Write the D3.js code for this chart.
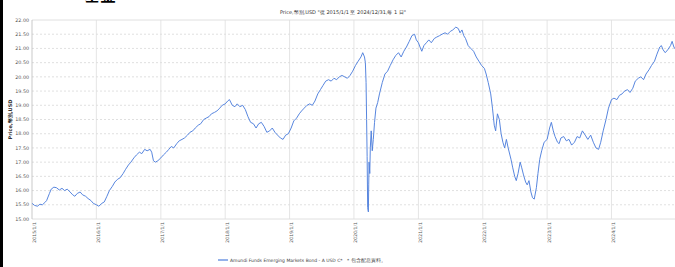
<!DOCTYPE html>
<html><head><meta charset="utf-8">
<script src="https://cdn.jsdelivr.net/npm/d3@7"></script>
<style>body{margin:0;background:#fff;overflow:hidden}svg{display:block;font-family:"DejaVu Sans",Verdana,sans-serif}</style>
</head><body>
<svg id="c" width="675" height="267"></svg>
<script>
const titleText = 'Price,幣別,USD "從 2015/1/1 至 2024/12/31,每 1 日"';
const yLabel = "Price,幣別,USD";
const seriesName = "Amundi Funds Emerging Markets Bond - A USD C*";
const noteText = "*  包含配息資料。";
const yTicks = [15,15.5,16,16.5,17,17.5,18,18.5,19,19.5,20,20.5,21,21.5,22];
const xTickYears = [2015,2016,2017,2018,2019,2020,2021,2022,2023,2024];
const dates = ["2015-01-02","2015-01-15","2015-02-01","2015-02-15","2015-03-01","2015-03-15","2015-03-25","2015-04-10","2015-04-20","2015-05-05","2015-05-20","2015-06-05","2015-06-20","2015-07-05","2015-07-20","2015-08-05","2015-08-20","2015-09-01","2015-09-15","2015-10-01","2015-10-15","2015-11-01","2015-11-15","2015-12-01","2015-12-15",
"2016-01-01","2016-01-15","2016-02-01","2016-02-15","2016-03-01","2016-03-15","2016-04-01","2016-04-15","2016-05-01","2016-05-15","2016-06-01","2016-06-15","2016-07-01","2016-07-15","2016-08-01","2016-08-15","2016-09-01","2016-09-15","2016-10-01","2016-10-15","2016-11-01","2016-11-10","2016-11-20","2016-12-01","2016-12-15",
"2017-01-01","2017-01-15","2017-02-01","2017-02-15","2017-03-01","2017-03-15","2017-04-01","2017-04-15","2017-05-01","2017-05-15","2017-06-01","2017-06-15","2017-07-01","2017-07-15","2017-08-01","2017-08-15","2017-09-01","2017-09-15","2017-10-01","2017-10-15","2017-11-01","2017-11-15","2017-12-01","2017-12-15",
"2018-01-01","2018-01-15","2018-01-25","2018-02-10","2018-02-25","2018-03-10","2018-03-25","2018-04-10","2018-04-25","2018-05-10","2018-05-25","2018-06-10","2018-06-25","2018-07-10","2018-07-25","2018-08-10","2018-08-25","2018-09-10","2018-09-25","2018-10-10","2018-10-25","2018-11-10","2018-11-25","2018-12-10","2018-12-25",
"2019-01-10","2019-01-25","2019-02-10","2019-02-25","2019-03-10","2019-03-25","2019-04-10","2019-04-25","2019-05-10","2019-05-25","2019-06-10","2019-06-25","2019-07-10","2019-07-25","2019-08-10","2019-08-25","2019-09-10","2019-09-25","2019-10-10","2019-10-25","2019-11-10","2019-11-25","2019-12-10","2019-12-25",
"2020-01-10","2020-01-25","2020-02-10","2020-02-20","2020-03-01","2020-03-06","2020-03-10","2020-03-13","2020-03-16","2020-03-19","2020-03-23","2020-03-25","2020-03-27","2020-03-31","2020-04-03","2020-04-08","2020-04-14","2020-04-20","2020-04-27","2020-05-05","2020-05-15","2020-05-25","2020-06-10","2020-06-25","2020-07-10","2020-07-25","2020-08-10","2020-08-25","2020-09-10","2020-09-25","2020-10-10","2020-10-25","2020-11-10","2020-11-25","2020-12-10","2020-12-20",
"2021-01-01","2021-01-10","2021-01-20","2021-02-01","2021-02-15","2021-03-01","2021-03-15","2021-04-01","2021-04-15","2021-05-01","2021-05-15","2021-06-01","2021-06-15","2021-07-01","2021-07-15","2021-08-01","2021-08-15","2021-08-25","2021-09-05","2021-09-15","2021-09-25","2021-10-10","2021-10-25","2021-11-10","2021-11-25","2021-12-10","2021-12-25",
"2022-01-10","2022-01-20","2022-02-01","2022-02-15","2022-02-25","2022-03-07","2022-03-15","2022-03-25","2022-04-05","2022-04-15","2022-04-25","2022-05-05","2022-05-15","2022-05-25","2022-06-10","2022-06-20","2022-07-01","2022-07-10","2022-07-20","2022-08-01","2022-08-10","2022-08-20","2022-09-01","2022-09-10","2022-09-20","2022-10-01","2022-10-10","2022-10-20","2022-11-01","2022-11-10","2022-11-20","2022-12-01","2022-12-15",
"2023-01-01","2023-01-15","2023-01-25","2023-02-05","2023-02-15","2023-03-01","2023-03-10","2023-03-20","2023-04-05","2023-04-20","2023-05-05","2023-05-20","2023-06-05","2023-06-20","2023-07-05","2023-07-20","2023-08-05","2023-08-20","2023-09-05","2023-09-20","2023-10-05","2023-10-20","2023-11-01","2023-11-15","2023-12-01","2023-12-15",
"2024-01-01","2024-01-15","2024-02-01","2024-02-15","2024-03-01","2024-03-15","2024-04-01","2024-04-15","2024-05-01","2024-05-15","2024-06-01","2024-06-15","2024-07-01","2024-07-15","2024-08-01","2024-08-15","2024-09-01","2024-09-15","2024-10-01","2024-10-10","2024-10-20","2024-11-01","2024-11-15","2024-12-01","2024-12-10","2024-12-20","2024-12-31"];
const prices = [15.55,15.48,15.45,15.52,15.50,15.58,15.65,15.90,16.05,16.12,16.10,16.02,16.08,16.00,16.05,15.95,15.85,15.80,15.90,15.95,15.85,15.80,15.72,15.65,15.55,
15.50,15.45,15.55,15.60,15.80,16.00,16.15,16.30,16.40,16.45,16.60,16.75,16.90,17.00,17.15,17.25,17.35,17.30,17.45,17.40,17.45,17.35,17.05,17.00,17.05,
17.15,17.25,17.35,17.45,17.55,17.50,17.65,17.75,17.80,17.85,17.95,18.05,18.10,18.20,18.30,18.35,18.50,18.55,18.60,18.70,18.75,18.80,18.90,19.00,
19.05,19.15,19.20,19.00,18.95,19.05,18.95,19.00,18.85,18.60,18.40,18.35,18.20,18.35,18.40,18.25,18.05,18.10,18.20,18.05,17.95,17.85,17.80,17.95,18.00,
18.20,18.45,18.55,18.70,18.80,18.90,19.00,19.05,19.00,19.15,19.40,19.55,19.70,19.85,19.90,19.85,19.95,19.90,20.00,20.05,20.00,19.95,20.05,20.20,
20.40,20.55,20.70,20.85,20.70,20.50,19.80,18.50,17.20,15.40,15.25,16.20,17.00,16.60,17.50,18.10,17.40,17.80,18.40,18.90,19.10,19.40,19.80,20.10,20.20,20.40,20.60,20.75,20.85,20.70,20.90,21.05,21.25,21.45,21.50,21.30,
21.20,21.05,20.90,21.10,21.20,21.30,21.20,21.35,21.40,21.45,21.50,21.55,21.50,21.60,21.65,21.75,21.70,21.55,21.65,21.45,21.35,21.10,21.00,20.90,20.70,20.55,20.40,
20.30,20.10,19.80,19.40,18.90,18.30,18.10,18.70,18.50,18.00,17.70,17.50,17.80,17.50,17.10,16.80,16.50,16.35,16.60,17.00,16.80,16.55,16.30,16.20,16.35,15.95,15.75,15.70,16.10,16.60,17.10,17.40,17.70,
17.80,18.20,18.40,18.10,17.90,17.70,17.65,17.85,17.90,17.75,17.80,17.60,17.70,17.90,17.85,18.10,17.95,17.80,17.95,17.70,17.50,17.45,17.70,18.10,18.50,18.90,
19.20,19.25,19.20,19.35,19.40,19.50,19.55,19.45,19.60,19.85,19.95,20.00,19.90,20.10,20.25,20.40,20.55,20.80,21.05,21.10,20.95,20.85,20.95,21.10,21.25,21.05,20.95];

const parse = d3.timeParse("%Y-%m-%d");
const data = dates.map((d,i)=>({date:parse(d), v:prices[i]}));

const svg = d3.select("#c");
const plot = {left:32, right:680, top:20, bottom:219};
const x = d3.scaleTime().domain([new Date(2015,0,1), new Date(2025,0,1)]).range([32, 676]);
const y = d3.scaleLinear().domain([15,22]).range([plot.bottom, plot.top]);

svg.append("rect").attr("x",0).attr("y",0).attr("width",675).attr("height",267).attr("fill","#fff");

// horizontal grid
svg.append("g").selectAll("line").data(yTicks).join("line")
  .attr("x1",plot.left).attr("x2",plot.right)
  .attr("y1",d=>y(d)).attr("y2",d=>y(d))
  .attr("stroke","#d8d8d8").attr("stroke-dasharray",d=>(d===22||d===15)?null:"2,2").attr("stroke-width",0.8);
// vertical grid
const xt = xTickYears.map(yr=>new Date(yr,0,1));
svg.append("g").selectAll("line").data(xt.slice(1)).join("line")
  .attr("x1",d=>x(d)).attr("x2",d=>x(d)).attr("y1",plot.top).attr("y2",plot.bottom)
  .attr("stroke","#dedede").attr("stroke-width",0.8);
// left axis line
svg.append("line").attr("x1",plot.left).attr("x2",plot.left).attr("y1",plot.top).attr("y2",plot.bottom).attr("stroke","#bbb").attr("stroke-width",0.8);

// y labels
svg.append("g").selectAll("text").data(yTicks).join("text")
  .attr("x",29).attr("y",d=>y(d)+1.7).attr("text-anchor","end")
  .attr("font-size",4.8).attr("fill","#555").text(d=>d.toFixed(2));
// x labels
const fmt = d3.timeFormat("%Y/%-m/%-d");
svg.append("g").selectAll("text").data(xt).join("text")
  .attr("transform",d=>`translate(${x(d)+3.5},222) rotate(-90)`)
  .attr("text-anchor","end").attr("font-size",4.6).attr("fill","#555").text(d=>fmt(d));

// line
svg.append("defs").append("clipPath").attr("id","cp").append("rect")
  .attr("x",plot.left).attr("y",0).attr("width",plot.right-plot.left).attr("height",267);
svg.append("path").datum(data).attr("clip-path","url(#cp)")
  .attr("fill","none").attr("stroke","#4f7fdc").attr("stroke-width",0.95)
  .attr("d", d3.line().x(d=>x(d.date)).y(d=>y(d.v)));

// title
svg.append("text").attr("x",343).attr("y",14).attr("text-anchor","middle").attr("font-size",5).attr("fill","#333").text(titleText);
// y label
svg.append("text").attr("transform",`translate(11.5,${(plot.top+plot.bottom)/2}) rotate(-90)`).attr("text-anchor","middle")
  .attr("font-size",5).attr("font-weight","bold").attr("fill","#333").text(yLabel);

// legend
svg.append("line").attr("x1",218).attr("x2",228).attr("y1",260).attr("y2",260).attr("stroke","#4f7fdc").attr("stroke-width",1.2);
svg.append("text").attr("x",230).attr("y",261.7).attr("font-size",4.5).attr("fill","#444").text(seriesName);
svg.append("text").attr("x",347).attr("y",261.7).attr("font-size",4.5).attr("fill","#444").text(noteText);

// frame artifacts
svg.append("rect").attr("x",0).attr("y",0).attr("width",3).attr("height",267).attr("fill","#000");
svg.append("text").attr("x",84).attr("y",1).attr("font-size",16).attr("font-weight","bold").attr("fill","#000").attr("font-family","Noto Sans CJK TC").text("基金");
</script>
</body></html>
